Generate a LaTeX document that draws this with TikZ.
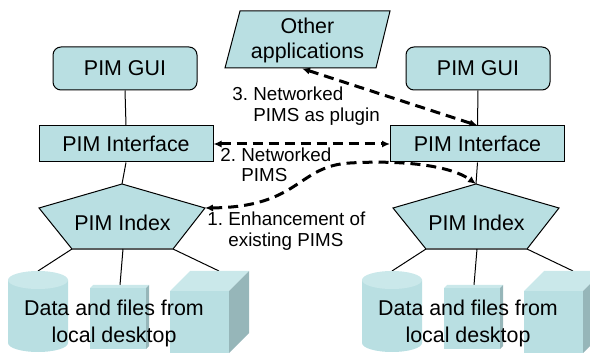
\documentclass[tikz,border=0pt]{standalone}
\usepackage{fontspec}
\setmainfont{Liberation Sans}
\usetikzlibrary{arrows.meta}
\definecolor{boxfill}{RGB}{185,223,226}
\definecolor{boxtop}{RGB}{202,232,234}
\definecolor{boxside}{RGB}{150,182,185}
\definecolor{edgegray}{RGB}{90,95,95}
\newcommand{\numlabel}[3]{\begin{tabular}{@{}p{10.5pt}@{}l@{}}#1&#2\\&#3\end{tabular}}
\begin{document}
\begin{tikzpicture}[x=0.5pt,y=-0.5pt,
  box/.style={draw=black, line width=0.5pt, fill=boxfill, inner sep=0pt, font=\fontsize{10.7}{13}\selectfont},
  gui/.style={box, rounded corners=4pt, minimum width=72pt, minimum height=21.5pt},
  iface/.style={box, minimum width=87pt, minimum height=18pt},
  txt/.style={inner sep=0pt, align=center, font=\fontsize{10.7}{12.8}\selectfont},
  datatxt/.style={inner sep=0pt, align=center, font=\fontsize{10.7}{13.5}\selectfont},
  lbl/.style={inner sep=0pt, anchor=west, font=\fontsize{9.4}{10.3}\selectfont},
  link/.style={line width=0.5pt},
  dasharrow/.style={line width=1.5pt, dash pattern=on 5pt off 3pt,
    {Latex[length=4pt,width=3.6pt]}-{Latex[length=4pt,width=3.6pt]}}]
\useasboundingbox (0,0) rectangle (590,353);
\clip (0,0) rectangle (590,353);

\foreach \s/\dx/\gx/\ix in {L/0/125/126,R/354/478/477.5} {
  % pentagon vertices
  \coordinate (pt\s) at (122+\dx,184);
  \coordinate (pr\s) at (205+\dx,208);
  \coordinate (pbr\s) at (173+\dx,249);
  \coordinate (pbl\s) at (72+\dx,249);
  \coordinate (pl\s) at (39+\dx,208);
  \coordinate (pbm\s) at (123+\dx,249);
  % storage tops
  \coordinate (cyl\s) at (38+\dx,271);
  \coordinate (flat\s) at (120+\dx,285);
  \coordinate (cube\s) at (219+\dx,271);

  \node[gui] (gui\s) at (\gx,68.5) {PIM GUI};
  \node[iface] (if\s) at (\ix,144) {PIM Interface};
  \draw[link] (gui\s.south) -- (if\s.north);
  \draw[link] (if\s.south) -- (pt\s);

  \draw[link, fill=boxfill] (pt\s) -- (pr\s) -- (pbr\s) -- (pbl\s) -- (pl\s) -- cycle;
  \draw[edgegray, line width=1.2pt] (pbl\s) -- (pbr\s);
  \node[txt] (idx\s) at (122.5+\dx,223) {PIM Index};

  \draw[link] (pbl\s) -- (cyl\s);
  \draw[link] (pbm\s) -- (flat\s);
  \draw[link] (pbr\s) -- (cube\s);

  % cylinder
  \fill[boxfill] (8+\dx,280) -- (8+\dx,343) arc[start angle=180,end angle=0,x radius=30,y radius=9] -- (68+\dx,280) -- cycle;
  \fill[boxtop] (38+\dx,280) ellipse [x radius=30, y radius=9];
  % flat box
  \fill[boxfill] (90+\dx,288) rectangle (146+\dx,349);
  \fill[boxtop] (90+\dx,288) -- (93+\dx,285) -- (149+\dx,285) -- (146+\dx,288) -- cycle;
  \fill[boxside] (146+\dx,288) -- (149+\dx,285) -- (149+\dx,346) -- (146+\dx,349) -- cycle;
  % cube
  \fill[boxfill] (170+\dx,291) rectangle (229+\dx,353);
  \fill[boxtop] (170+\dx,291) -- (190+\dx,271) -- (249+\dx,271) -- (229+\dx,291) -- cycle;
  \fill[boxside] (229+\dx,291) -- (249+\dx,271) -- (249+\dx,333) -- (229+\dx,353) -- cycle;

  \node[datatxt] (data\s) at (114+\dx,323.5) {Data and files from\\local desktop};
}

% other applications
\draw[link, fill=boxfill] (240,11) -- (390,11) -- (376,68) -- (225,68) -- cycle;
\node[txt] (other) at (307.5,40.5) {Other\\applications};
\coordinate (otherB) at (302,68.5);

% dashed connectors
\draw[dasharrow] (otherB) -- (ifR.north);
\draw[dasharrow] (ifL.east) -- (ifR.west);
\draw[dasharrow] (prL) .. controls (300,207) and (297,166) .. (350,163)
  .. controls (400,160) and (450,165) .. (ptR);

% labels
\node[lbl] (lab3) at (232,107) {\numlabel{3.}{Networked}{PIMS as plugin}};
\node[lbl] (lab2) at (220,167.5) {\numlabel{2.}{Networked}{PIMS}};
\node[lbl] (lab1) at (207,232) {\numlabel{1.}{Enhancement of}{existing PIMS}};
\end{tikzpicture}
\end{document}
